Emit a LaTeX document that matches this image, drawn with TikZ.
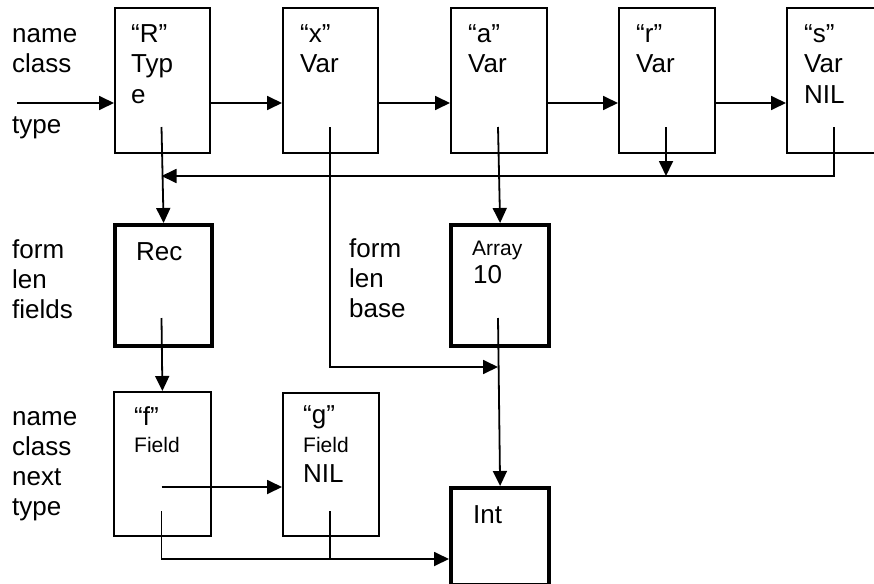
\documentclass[tikz,border=0pt]{standalone}
\usepackage{fontspec}
\setmainfont{Liberation Sans}
\usetikzlibrary{arrows.meta}
\begin{document}
\begin{tikzpicture}[x=1pt,y=-1pt,
  big/.style={font=\fontsize{26}{30}\selectfont},
  small/.style={font=\fontsize{21}{25}\selectfont},
  txt/.style={anchor=base west, inner sep=0pt, big},
  stxt/.style={anchor=base west, inner sep=0pt, small},
  box/.style={draw, line width=1.8pt, anchor=north west, inner sep=0pt},
  tbox/.style={box, line width=4.2pt},
  arr/.style={line width=1.8pt, -{Triangle[length=15pt,width=14pt]}},
  ln/.style={line width=1.8pt}]
\useasboundingbox (0,0) rectangle (874,583);
\clip (0,0) rectangle (874,583);
% top row boxes
\node[box, minimum width=95pt, minimum height=145pt] (R) at (114,7) {};
\node[box, minimum width=95pt, minimum height=145pt] (X) at (282,7) {};
\node[box, minimum width=96pt, minimum height=145pt] (A) at (450,7) {};
\node[box, minimum width=96pt, minimum height=145pt] (Rr) at (618,7) {};
\node[box, minimum width=96pt, minimum height=145pt] (S) at (786,7) {};
% middle boxes
\node[tbox, minimum width=97pt, minimum height=121pt] (Rec) at (113,223) {};
\node[tbox, minimum width=98pt, minimum height=121pt] (Arr) at (449,223) {};
% bottom boxes
\node[box, minimum width=97pt, minimum height=144pt] (F) at (113,391) {};
\node[box, minimum width=96pt, minimum height=143pt] (G) at (282,392) {};
\node[tbox, minimum width=98pt, minimum height=97pt] (Int) at (449,486) {};
% left labels
\node[txt] (l1) at (12,43) {name};
\node[txt] (l2) at (12,73) {class};
\node[txt] (l3) at (12,133) {type};
\node[txt] (l4) at (12,258) {form};
\node[txt] (l5) at (12,288) {len};
\node[txt] (l6) at (12,318) {fields};
\node[txt] (l7) at (12,425) {name};
\node[txt] (l8) at (12,455) {class};
\node[txt] (l9) at (12,485) {next};
\node[txt] (l10) at (12,515) {type};
\node[txt] (m1) at (349,257) {form};
\node[txt] (m2) at (349,287) {len};
\node[txt] (m3) at (349,317) {base};
% box texts
\node[txt] (tR1) at (131,43) {“R”};
\node[txt] (tR2) at (131,73) {Typ};
\node[txt] (tR3) at (131,103) {e};
\node[txt] (tX1) at (300,43) {“x”};
\node[txt] (tX2) at (300,73) {Var};
\node[txt] (tA1) at (468,43) {“a”};
\node[txt] (tA2) at (468,73) {Var};
\node[txt] (tr1) at (636,43) {“r”};
\node[txt] (tr2) at (636,73) {Var};
\node[txt] (tS1) at (804,43) {“s”};
\node[txt] (tS2) at (804,73) {Var};
\node[txt] (tS3) at (804,103) {NIL};
\node[txt] (tRec) at (136,260) {Rec};
\node[stxt] (tArr1) at (472,255) {Array};
\node[txt] (tArr2) at (473,283) {10};
\node[txt] (tF1) at (134,425) {“f”};
\node[stxt] (tF2) at (134,452) {Field};
\node[txt] (tG1) at (303,423) {“g”};
\node[stxt] (tG2) at (303,452) {Field};
\node[txt] (tG3) at (303,482) {NIL};
\node[txt] (tInt) at (473,523) {Int};
% coordinates
\coordinate (in) at (17,103);
\coordinate (pR) at (161.5,127);
\coordinate (pX) at (330,127);
\coordinate (pA) at (498,127);
\coordinate (pr) at (666,127);
\coordinate (pS) at (834,127);
\coordinate (ret) at (0,176);
\coordinate (jx) at (0,367);
\coordinate (pRec) at (161.5,318);
\coordinate (pArr) at (498,318);
\coordinate (fn) at (161.5,487);
\coordinate (ft) at (161.5,511);
\coordinate (gt) at (330,511);
\coordinate (tj) at (330,559);
% top chain
\draw[arr] (in) -- (R.west |- in);
\draw[arr] (R.east |- in) -- (X.west |- in);
\draw[arr] (X.east |- in) -- (A.west |- in);
\draw[arr] (A.east |- in) -- (Rr.west |- in);
\draw[arr] (Rr.east |- in) -- (S.west |- in);
% type pointers
\draw[arr] (pS) |- (pR |- ret);
\draw[arr] (pr) -- (pr |- ret);
\draw[arr] (pR) -- (Rec.north);
\draw[arr] (pA) -- (Arr.north);
\draw[arr] (pX) |- (pArr |- jx);
\draw[arr] (pArr) -- (Int.north);
\draw[arr] (pRec) -- (F.north);
\draw[arr] (fn) -- (G.west |- fn);
\draw[arr] (ft) |- (Int.west |- tj);
\draw[ln] (gt) -- (tj);
\end{tikzpicture}
\end{document}
